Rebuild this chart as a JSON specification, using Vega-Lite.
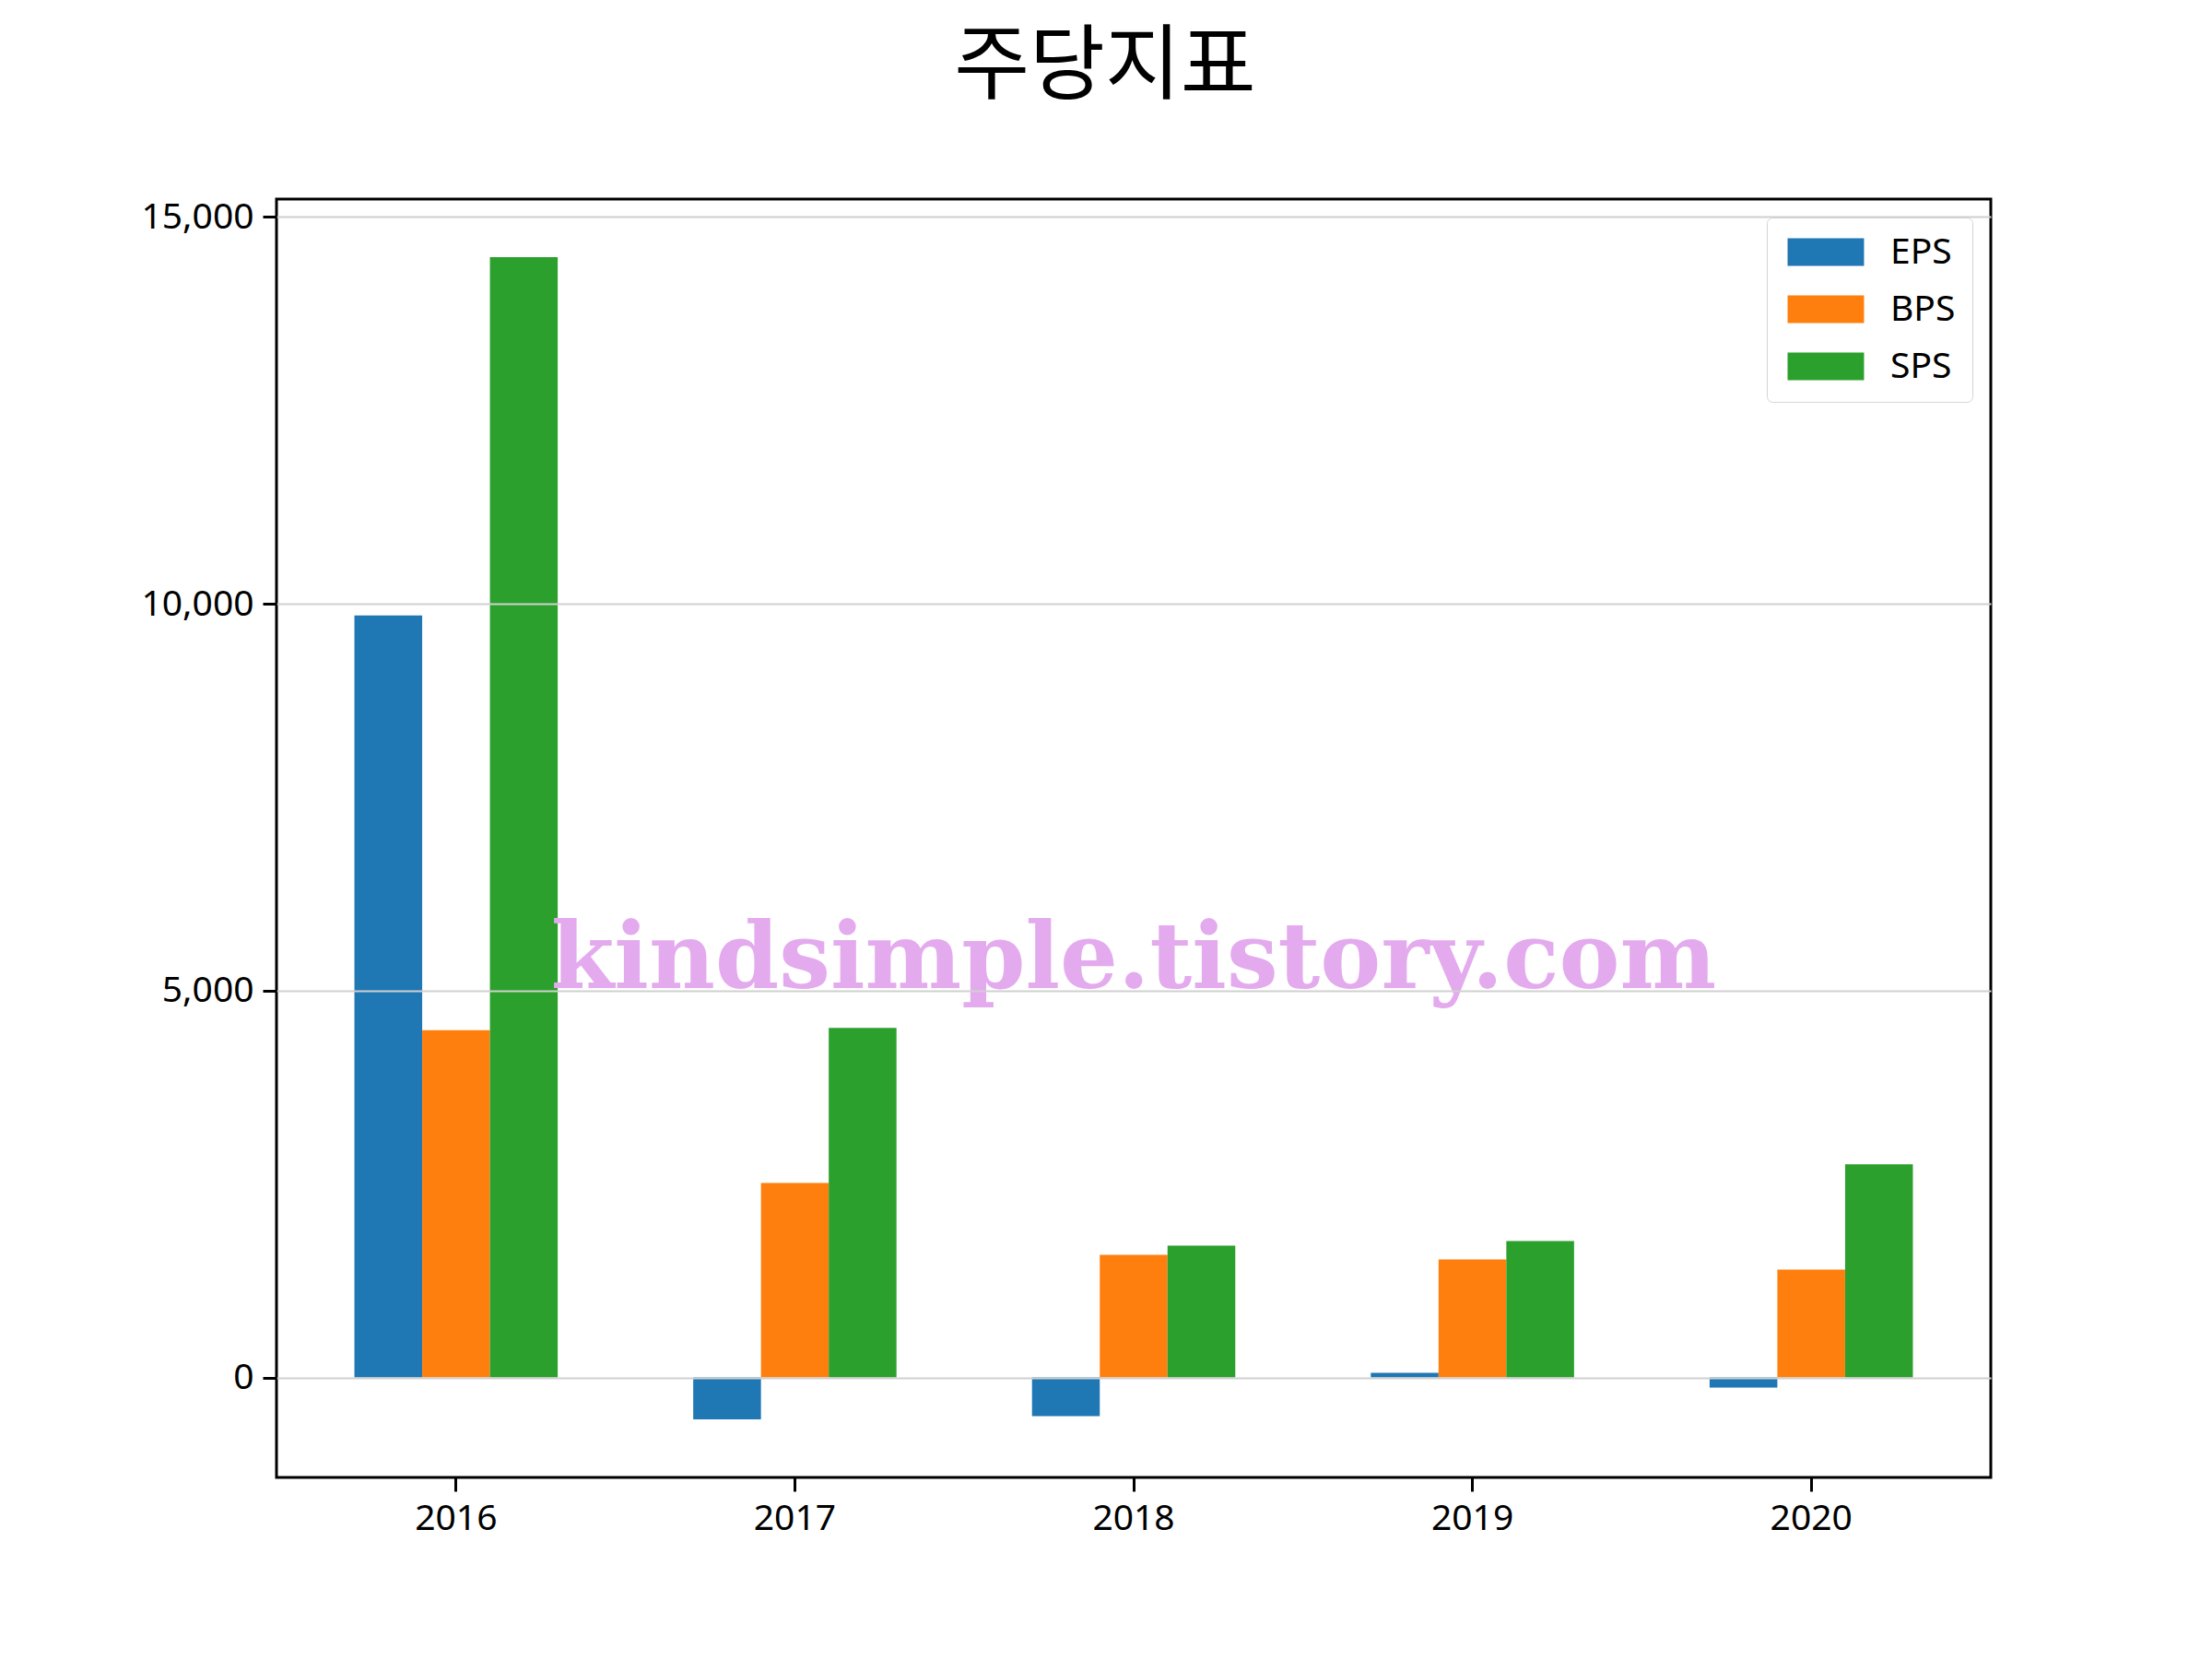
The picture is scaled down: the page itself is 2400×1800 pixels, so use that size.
{
  "$schema": "https://vega.github.io/schema/vega-lite/v6.json",
  "autosize": {"type": "none"},
  "padding": {"left": 300, "top": 216, "right": 240, "bottom": 197},
  "width": 1860,
  "height": 1387,
  "background": "white",
  "title": {
    "text": "주당지표",
    "font": "Noto Sans CJK KR",
    "fontSize": 89,
    "fontWeight": "normal",
    "color": "black",
    "anchor": "middle",
    "baseline": "alphabetic",
    "dx": -31,
    "offset": 27
  },
  "config": {
    "view": {"stroke": "black", "strokeWidth": 3},
    "font": "Noto Sans"
  },
  "layer": [
    {
      "data": {
        "values": [
          {"year": "2016", "metric": "EPS", "value": 9850},
          {"year": "2016", "metric": "BPS", "value": 4490},
          {"year": "2016", "metric": "SPS", "value": 14480},
          {"year": "2017", "metric": "EPS", "value": -540},
          {"year": "2017", "metric": "BPS", "value": 2515},
          {"year": "2017", "metric": "SPS", "value": 4520},
          {"year": "2018", "metric": "EPS", "value": -500},
          {"year": "2018", "metric": "BPS", "value": 1585},
          {"year": "2018", "metric": "SPS", "value": 1705},
          {"year": "2019", "metric": "EPS", "value": 60},
          {"year": "2019", "metric": "BPS", "value": 1525},
          {"year": "2019", "metric": "SPS", "value": 1765},
          {"year": "2020", "metric": "EPS", "value": -130},
          {"year": "2020", "metric": "BPS", "value": 1395},
          {"year": "2020", "metric": "SPS", "value": 2755}
        ]
      },
      "mark": {"type": "bar"},
      "encoding": {
        "x": {
          "field": "year",
          "type": "nominal",
          "scale": {"paddingInner": 0, "paddingOuter": 0.03},
          "axis": {
            "title": null,
            "labelAngle": 0,
            "labelFontSize": 39,
            "labelColor": "black",
            "labelFont": "Noto Sans",
            "labelPadding": 10,
            "tickSize": 15,
            "tickWidth": 3,
            "tickColor": "black",
            "domain": false,
            "grid": false,
            "bandPosition": 0.5
          }
        },
        "xOffset": {
          "field": "metric",
          "type": "nominal",
          "sort": ["EPS", "BPS", "SPS"],
          "scale": {"paddingInner": 0, "paddingOuter": 1}
        },
        "y": {
          "field": "value",
          "type": "quantitative",
          "scale": {"domain": [-1291, 15231], "nice": false, "zero": false},
          "axis": {
            "title": null,
            "values": [0, 5000, 10000, 15000],
            "format": ",.0f",
            "labelFontSize": 39,
            "labelColor": "black",
            "labelFont": "Noto Sans",
            "labelPadding": 10,
            "tickSize": 15,
            "tickWidth": 3,
            "tickColor": "black",
            "domain": false,
            "grid": true,
            "gridColor": "#d0d0d0",
            "gridWidth": 2,
            "zindex": 1
          }
        },
        "color": {
          "field": "metric",
          "type": "nominal",
          "sort": ["EPS", "BPS", "SPS"],
          "scale": {"domain": ["EPS", "BPS", "SPS"], "range": ["#1f77b4", "#ff7f0e", "#2ca02c"]},
          "legend": {
            "title": null,
            "orient": "top-right",
            "offset": 20,
            "symbolType": "M-1,-1H4.53V1H-1Z",
            "symbolSize": 900,
            "symbolStrokeWidth": 0,
            "symbolOpacity": 1,
            "labelFontSize": 39,
            "labelFont": "Noto Sans",
            "labelColor": "black",
            "labelOffset": 77,
            "rowPadding": 22,
            "padding": 18,
            "fillColor": "rgba(255,255,255,0.8)",
            "strokeColor": "#d5d5d5",
            "cornerRadius": 6
          }
        }
      }
    },
    {
      "data": {"values": [{"year": "2018", "level": 5000, "wm": "kindsimple.tistory.com"}]},
      "mark": {
        "type": "text",
        "font": "DejaVu Serif",
        "fontWeight": "bold",
        "fontSize": 99,
        "color": "#E4AAEE",
        "align": "center",
        "baseline": "alphabetic",
        "dy": -3
      },
      "encoding": {
        "x": {"field": "year", "type": "nominal", "bandPosition": 0.5},
        "y": {"field": "level", "type": "quantitative"},
        "text": {"field": "wm"}
      }
    }
  ]
}
